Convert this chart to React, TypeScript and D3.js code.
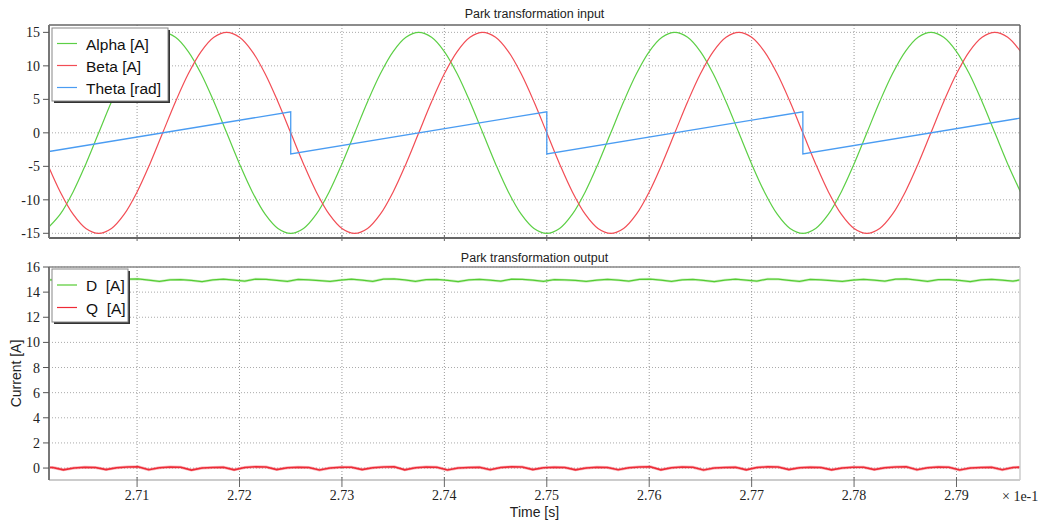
import React from 'react';
import * as d3 from 'd3';

// ---- data (time axis in units of 1e-1 s) ----
const X_TICKS = [2.71, 2.72, 2.73, 2.74, 2.75, 2.76, 2.77, 2.78, 2.79];
const Y_TICKS_TOP = [-15, -10, -5, 0, 5, 10, 15];
const Y_TICKS_BOT = [0, 2, 4, 6, 8, 10, 12, 14, 16];

// Alpha / Beta sampled from t = 2.70125, every 0.00125
const AB_T0 = 2.70125;
const AB_DT = 0.00125;
const ALPHA = [
  -14.27, -12.14, -8.82, -4.64, 0, 4.64, 8.82, 12.14, 14.27, 15, 14.27, 12.14, 8.82, 4.64, 0, -4.64, -8.82, -12.14, -14.27, -15,
  -14.27, -12.14, -8.82, -4.64, 0, 4.64, 8.82, 12.14, 14.27, 15, 14.27, 12.14, 8.82, 4.64, 0, -4.64, -8.82, -12.14, -14.27, -15,
  -14.27, -12.14, -8.82, -4.64, 0, 4.64, 8.82, 12.14, 14.27, 15, 14.27, 12.14, 8.82, 4.64, 0, -4.64, -8.82, -12.14, -14.27, -15,
  -14.27, -12.14, -8.82, -4.64, 0, 4.64, 8.82, 12.14, 14.27, 15, 14.27, 12.14, 8.82, 4.64, 0, -4.64, -8.82,
];
const BETA = [
  -4.64, -8.82, -12.14, -14.27, -15, -14.27, -12.14, -8.82, -4.64, 0, 4.64, 8.82, 12.14, 14.27, 15, 14.27, 12.14, 8.82, 4.64, 0,
  -4.64, -8.82, -12.14, -14.27, -15, -14.27, -12.14, -8.82, -4.64, 0, 4.64, 8.82, 12.14, 14.27, 15, 14.27, 12.14, 8.82, 4.64, 0,
  -4.64, -8.82, -12.14, -14.27, -15, -14.27, -12.14, -8.82, -4.64, 0, 4.64, 8.82, 12.14, 14.27, 15, 14.27, 12.14, 8.82, 4.64, 0,
  -4.64, -8.82, -12.14, -14.27, -15, -14.27, -12.14, -8.82, -4.64, 0, 4.64, 8.82, 12.14, 14.27, 15, 14.27, 12.14,
];
// Theta sawtooth breakpoints
const THETA_T = [2.7014, 2.725, 2.725, 2.75, 2.75, 2.775, 2.775, 2.7962];
const THETA_V = [-2.79, 3.14, -3.14, 3.14, -3.14, 3.14, -3.14, 2.19];

// D / Q sampled from t = 2.70072, every 0.025/24
const DQ_T0 = 2.70072;
const DQ_DT = 0.025 / 24;
const D_VAL = [
  15.0, 14.97, 14.92, 14.84, 14.95, 15.02, 14.95, 14.87, 15.03, 15.05, 14.96, 14.85,
  14.98, 15.0, 14.93, 14.83, 14.97, 15.03, 14.96, 14.88, 15.04, 15.02, 14.94, 14.86,
  15.01, 14.98, 14.92, 14.85, 14.96, 15.03, 14.95, 14.86, 15.04, 15.05, 14.97, 14.86,
  14.99, 15.01, 14.94, 14.84, 14.97, 15.02, 14.95, 14.87, 15.03, 15.02, 14.95, 14.86,
  15.0, 14.97, 14.93, 14.85, 14.95, 15.02, 14.96, 14.87, 15.02, 15.04, 14.96, 14.85,
  14.98, 15.01, 14.93, 14.84, 14.96, 15.03, 14.95, 14.88, 15.04, 15.03, 14.94, 14.86,
  15.01, 14.98, 14.92, 14.85, 14.96, 15.02, 14.95, 14.87, 15.03, 15.05, 14.96, 14.86,
  14.99, 15.0, 14.93, 14.84, 14.97, 15.02, 14.95, 14.87, 15.02,
];
const Q_VAL = [
  0.06, 0.04, -0.14, 0.01, 0.06, 0.05, -0.12, 0.03, 0.09, 0.1, -0.13, 0.03,
  0.08, 0.07, -0.16, 0.0, 0.05, 0.06, -0.14, 0.04, 0.1, 0.09, -0.12, 0.02,
  0.06, 0.05, -0.15, 0.01, 0.07, 0.06, -0.12, 0.03, 0.09, 0.1, -0.14, 0.02,
  0.08, 0.06, -0.15, 0.0, 0.05, 0.07, -0.13, 0.04, 0.1, 0.08, -0.12, 0.02,
  0.06, 0.04, -0.14, 0.01, 0.06, 0.05, -0.13, 0.03, 0.09, 0.1, -0.14, 0.03,
  0.08, 0.07, -0.15, 0.0, 0.05, 0.06, -0.14, 0.04, 0.1, 0.09, -0.12, 0.02,
  0.06, 0.05, -0.14, 0.01, 0.07, 0.06, -0.12, 0.03, 0.09, 0.1, -0.13, 0.02,
  0.08, 0.06, -0.15, 0.0, 0.05, 0.07, -0.13, 0.04, 0.09,
];

const C_ALPHA = '#5ccf45';
const C_BETA = '#f24d55';
const C_THETA = '#4a9cf2';
const C_D = '#55cc33';
const C_Q = '#ee2a36';

const SANS = "'Liberation Sans', Arial, sans-serif";
const SERIF = "'Liberation Serif', 'Times New Roman', serif";

export default function App() {
  const W = 1045;
  const H = 521;
  const L = 49;
  const R = 1020;
  const TOP_T = 25, TOP_B = 238;
  const BOT_T = 267, BOT_B = 480;

  const x = d3.scaleLinear().domain([2.7014, 2.7962]).range([L, R]);
  const yTop = d3.scaleLinear().domain([-15.7, 16.1]).range([TOP_B, TOP_T]);
  const yBot = d3.scaleLinear().domain([-0.95, 16]).range([BOT_B, BOT_T]);

  const smooth = d3.curveCatmullRom.alpha(0.5);
  const alphaPath = d3.line<number>().x((_, i) => x(AB_T0 + i * AB_DT)).y((d) => yTop(d)).curve(smooth)(ALPHA) || '';
  const betaPath = d3.line<number>().x((_, i) => x(AB_T0 + i * AB_DT)).y((d) => yTop(d)).curve(smooth)(BETA) || '';
  const thetaPath = d3.line<number>().x((_, i) => x(THETA_T[i])).y((d) => yTop(d))(THETA_V) || '';
  const dPath = d3.line<number>().x((_, i) => x(DQ_T0 + i * DQ_DT)).y((d) => yBot(d))(D_VAL) || '';
  const qPath = d3.line<number>().x((_, i) => x(DQ_T0 + i * DQ_DT)).y((d) => yBot(d))(Q_VAL) || '';

  const fmt = d3.format('.2f');

  return (
    <svg width={W} height={H} style={{ position: 'absolute', left: 0, top: 0, background: '#fff' }}>
      <defs>
        <clipPath id="clipTop"><rect x={L} y={TOP_T} width={R - L} height={TOP_B - TOP_T} /></clipPath>
        <clipPath id="clipBot"><rect x={L} y={BOT_T} width={R - L} height={BOT_B - BOT_T} /></clipPath>
      </defs>

      {/* titles */}
      <text x={(L + R) / 2} y={18} textAnchor="middle" fontFamily={SANS} fontSize={12.5} fill="#222">Park transformation input</text>
      <text x={(L + R) / 2} y={262} textAnchor="middle" fontFamily={SANS} fontSize={12.5} fill="#222">Park transformation output</text>

      {/* ---- top panel ---- */}
      <g>
        {Y_TICKS_TOP.map((t) => (
          <line key={'gyt' + t} x1={L} x2={R} y1={yTop(t)} y2={yTop(t)} stroke="#aaa" strokeDasharray="1,2" />
        ))}
        {X_TICKS.map((t) => (
          <line key={'gxt' + t} x1={x(t)} x2={x(t)} y1={TOP_T} y2={TOP_B} stroke="#999" strokeDasharray="1,2" />
        ))}
        <g clipPath="url(#clipTop)">
          <path d={alphaPath} fill="none" stroke={C_ALPHA} strokeWidth={1.2} />
          <path d={betaPath} fill="none" stroke={C_BETA} strokeWidth={1.2} />
          <path d={thetaPath} fill="none" stroke={C_THETA} strokeWidth={1.3} />
        </g>
        {/* frame */}
        <line x1={L} x2={R} y1={TOP_T} y2={TOP_T} stroke="#666" strokeWidth={1.5} />
        <line x1={R} x2={R} y1={TOP_T} y2={TOP_B} stroke="#666" strokeWidth={1.5} />
        <line x1={L} x2={R} y1={TOP_B} y2={TOP_B} stroke="#666" strokeWidth={2} />
        <line x1={L} x2={L} y1={TOP_T} y2={TOP_B} stroke="#777" strokeWidth={2} />
        {Y_TICKS_TOP.map((t) => (
          <g key={'yt' + t}>
            <line x1={L - 6} x2={L} y1={yTop(t)} y2={yTop(t)} stroke="#555" />
            <text x={40} y={yTop(t) + 5} textAnchor="end" fontFamily={SERIF} fontSize={14} fill="#222">{t}</text>
          </g>
        ))}
        {X_TICKS.map((t) => (
          <line key={'xtt' + t} x1={x(t)} x2={x(t)} y1={TOP_B - 3} y2={TOP_B + 3} stroke="#666" />
        ))}
        {/* legend */}
        <rect x={54} y={30} width={116} height={73} fill="#333" />
        <rect x={52} y={28} width={116} height={73} fill="#fff" stroke="#888" />
        {[
          ['Alpha [A]', C_ALPHA],
          ['Beta [A]', C_BETA],
          ['Theta [rad]', C_THETA],
        ].map(([label, c], i) => (
          <g key={label}>
            <line x1={57} x2={77} y1={43.5 + i * 22} y2={43.5 + i * 22} stroke={c} strokeWidth={1.2} />
            <text x={86} y={49.5 + i * 22} fontFamily={SANS} fontSize={15.5} fill="#111">{label}</text>
          </g>
        ))}
      </g>

      {/* ---- bottom panel ---- */}
      <g>
        {Y_TICKS_BOT.map((t) => (
          <line key={'gyb' + t} x1={L} x2={R} y1={yBot(t)} y2={yBot(t)} stroke="#aaa" strokeDasharray="1,2" />
        ))}
        {X_TICKS.map((t) => (
          <line key={'gxb' + t} x1={x(t)} x2={x(t)} y1={BOT_T} y2={BOT_B} stroke="#999" strokeDasharray="1,2" />
        ))}
        <g clipPath="url(#clipBot)">
          <path d={dPath} fill="none" stroke={C_D} strokeWidth={2.6} strokeOpacity={0.3} />
          <path d={dPath} fill="none" stroke={C_D} strokeWidth={1.2} />
          <path d={qPath} fill="none" stroke={C_Q} strokeWidth={3} strokeOpacity={0.35} />
          <path d={qPath} fill="none" stroke={C_Q} strokeWidth={1.6} />
        </g>
        {/* frame */}
        <line x1={L} x2={R} y1={BOT_T} y2={BOT_T} stroke="#888" strokeWidth={1.5} />
        <line x1={R} x2={R} y1={BOT_T} y2={BOT_B} stroke="#ccc" strokeWidth={1.5} />
        <line x1={L} x2={R} y1={BOT_B} y2={BOT_B} stroke="#ccc" strokeWidth={2} />
        <line x1={L} x2={L} y1={BOT_T} y2={BOT_B} stroke="#777" strokeWidth={2} />
        {Y_TICKS_BOT.map((t) => (
          <g key={'yb' + t}>
            <line x1={L - 6} x2={L} y1={yBot(t)} y2={yBot(t)} stroke="#555" />
            <text x={40} y={yBot(t) + 5} textAnchor="end" fontFamily={SERIF} fontSize={14} fill="#222">{t}</text>
          </g>
        ))}
        {X_TICKS.map((t) => (
          <g key={'xb' + t}>
            <line x1={x(t)} x2={x(t)} y1={BOT_B - 3} y2={BOT_B + 7} stroke="#666" />
            <text x={x(t)} y={500} textAnchor="middle" fontFamily={SERIF} fontSize={14} fill="#222">{fmt(t)}</text>
          </g>
        ))}
        <text x={1002} y={501} fontFamily={SERIF} fontSize={14} fill="#222">× 1e-1</text>
        <text x={(L + R) / 2} y={517} textAnchor="middle" fontFamily={SANS} fontSize={14} fill="#222">Time [s]</text>
        <text transform={`translate(21,${(BOT_T + BOT_B) / 2}) rotate(-90)`} textAnchor="middle" fontFamily={SANS} fontSize={14} fill="#222">Current [A]</text>
        {/* legend */}
        <rect x={54} y={271} width={76} height={53} fill="#333" />
        <rect x={52} y={269} width={76} height={53} fill="#fff" stroke="#888" />
        {[
          ['D  [A]', C_D],
          ['Q  [A]', C_Q],
        ].map(([label, c], i) => (
          <g key={label}>
            <line x1={57} x2={77} y1={285 + i * 22.5} y2={285 + i * 22.5} stroke={c} strokeWidth={1.2} />
            <text x={86} y={291 + i * 22.5} fontFamily={SANS} fontSize={15.5} fill="#111" style={{ whiteSpace: 'pre' }}>{label}</text>
          </g>
        ))}
      </g>
    </svg>
  );
}
